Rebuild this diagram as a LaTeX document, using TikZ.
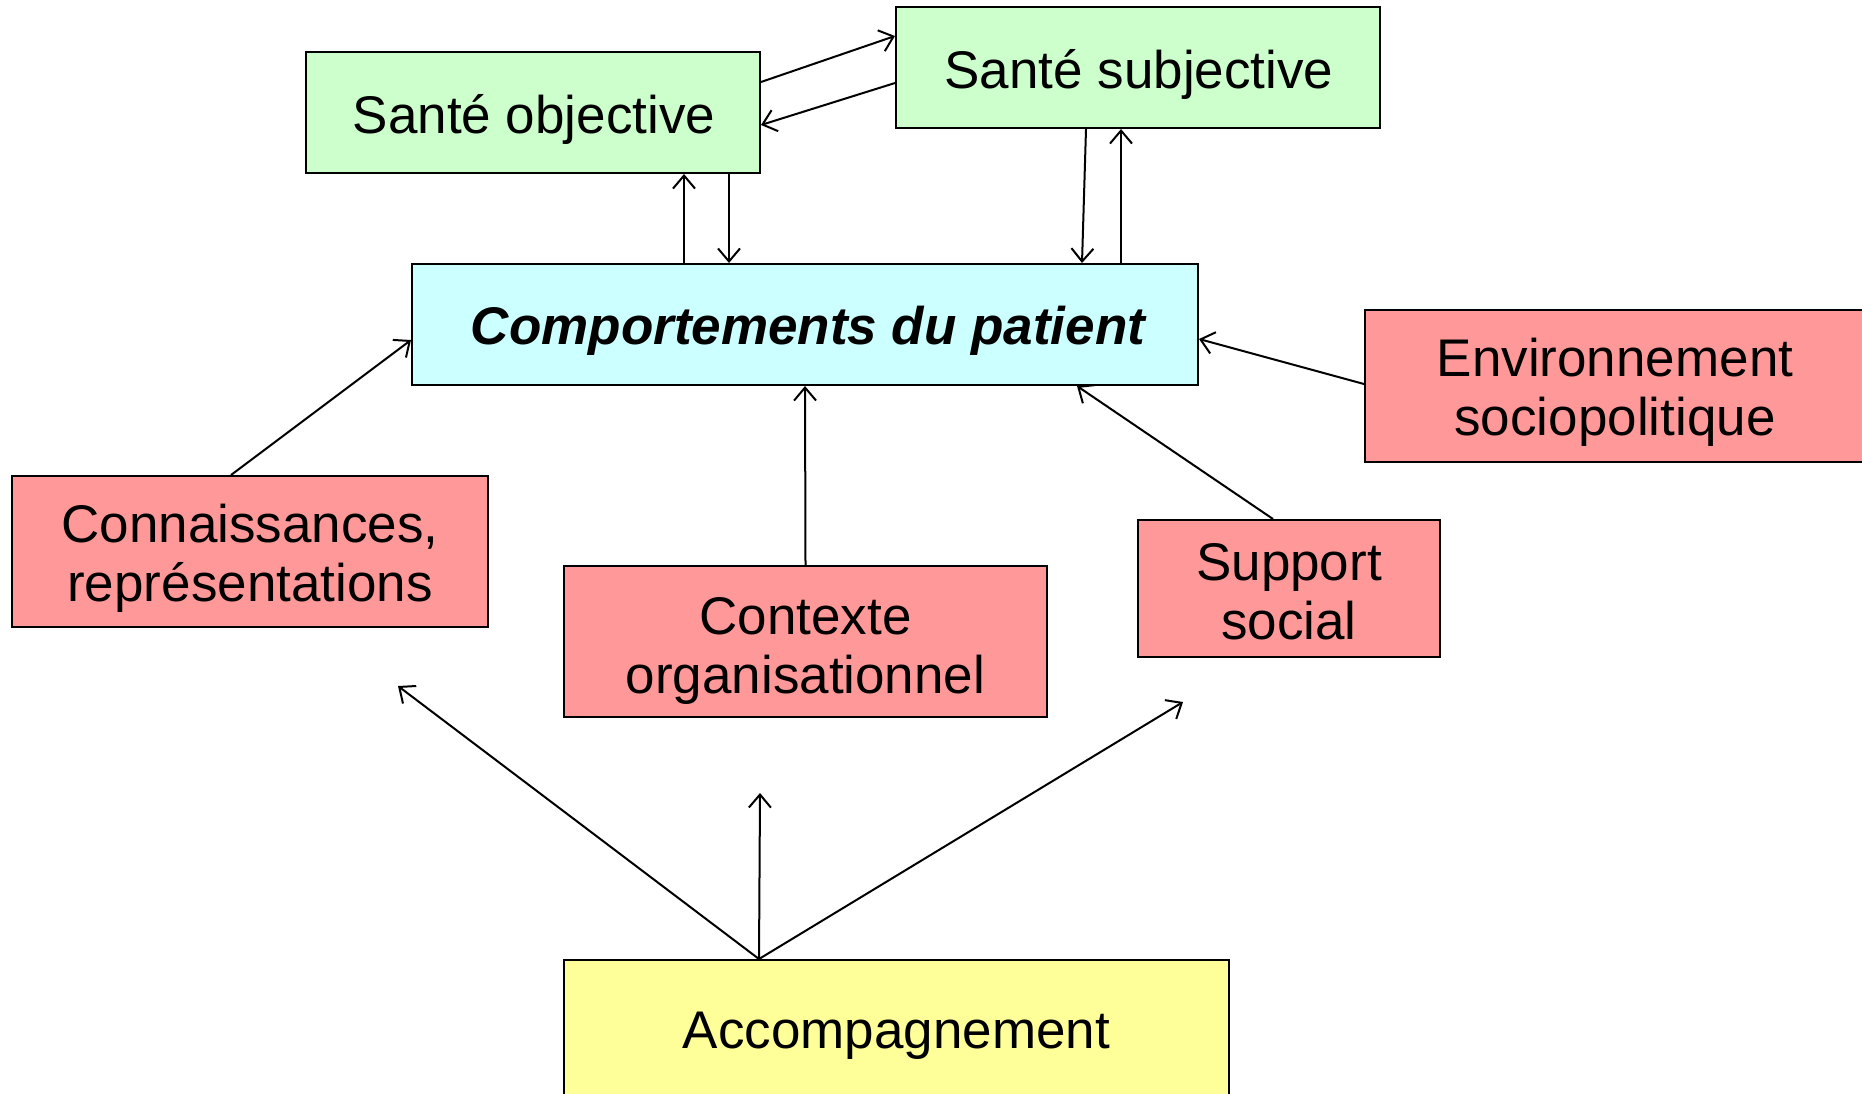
\documentclass[tikz,border=0pt]{standalone}
\usepackage{fontspec}
\setmainfont{Liberation Sans}
\usetikzlibrary{arrows.meta,calc}
\definecolor{vert}{HTML}{CCFFCC}
\definecolor{cyanc}{HTML}{CCFFFF}
\definecolor{rose}{HTML}{FF9999}
\definecolor{jaune}{HTML}{FFFF99}
\begin{document}
\begin{tikzpicture}[x=1pt,y=-1pt,
  boxn/.style={draw=black,line width=2pt,inner sep=0pt},
  txt/.style={inner sep=0pt,align=center,font=\fontsize{53}{59}\selectfont},
  arr/.style={line width=2pt,-{Straight Barb[length=13pt,width=22pt,line width=2pt]}}]
\useasboundingbox (0,0) rectangle (1862,1093);
\clip (0,0) rectangle (1862,1093);
\fill[white] (0,0) rectangle (1862,1093);
\node[boxn,fill=vert,minimum width=454pt,minimum height=121pt] (obj) at (533,112.5) {};
\node[boxn,fill=vert,minimum width=484pt,minimum height=121pt] (subj) at (1138,67.5) {};
\node[boxn,fill=cyanc,minimum width=786pt,minimum height=121pt] (comp) at (805,324.5) {};
\node[boxn,fill=rose,minimum width=500pt,minimum height=152pt] (env) at (1615,386) {};
\node[boxn,fill=rose,minimum width=476pt,minimum height=151pt] (conn) at (250,551.5) {};
\node[boxn,fill=rose,minimum width=483pt,minimum height=151pt] (ctx) at (805.5,641.5) {};
\node[boxn,fill=rose,minimum width=302pt,minimum height=137pt] (sup) at (1289,588.5) {};
\node[boxn,fill=jaune,minimum width=665pt,minimum height=140pt] (acc) at (896.5,1030) {};

\node[txt] (objt) at ($(obj.center)+(1,7)$) {Santé objective};
\node[txt] (subjt) at ($(subj.center)+(1,7)$) {Santé subjective};
\node[txt] (compt) at ($(comp.center)+(3,6)$) {\bfseries\itshape Comportements du patient};
\node[txt] (envt) at ($(env.center)+(0,6)$) {Environnement\\sociopolitique};
\node[txt] (connt) at ($(conn.center)+(0,7)$) {Connaissances,\\représentations};
\node[txt] (ctxt) at ($(ctx.center)+(0,9)$) {Contexte\\organisationnel};
\node[txt] (supt) at ($(sup.center)+(0,3)$) {Support\\social};
\node[txt] (acct) at ($(acc.center)+(0,6)$) {Accompagnement};

\draw[arr] ($(obj.north east)+(0,31)$) -- ($(subj.north west)+(0,30)$);
\draw[arr] ($(subj.north west)+(0,77)$) -- ($(obj.north east)+(0,74)$);
\draw[arr] ($(comp.north west)+(273,0)$) -- ($(obj.south west)+(379,0)$);
\draw[arr] ($(obj.south west)+(424,0)$) -- ($(comp.north west)+(318,0)$);
\draw[arr] ($(subj.south west)+(191,0)$) -- ($(comp.north west)+(671,0)$);
\draw[arr] ($(comp.north west)+(710,0)$) -- ($(subj.south west)+(226,0)$);
\draw[arr] ($(env.north west)+(0,75)$) -- ($(comp.north east)+(0,76)$);
\draw[arr] ($(conn.north west)+(220,0)$) -- ($(comp.north west)+(0,77)$);
\draw[arr] (ctx.north) -- (comp.south);
\draw[arr] ($(sup.north west)+(136,0)$) -- ($(comp.south west)+(666,0)$);

\coordinate (a0) at ($(acc.north west)+(196,0)$);
\coordinate (tl) at (398,686);
\coordinate (tm) at (760,793);
\coordinate (tr) at (1183,702);
\draw[arr] (a0) -- (tl);
\draw[arr] (a0) -- (tm);
\draw[arr] (a0) -- (tr);
\end{tikzpicture}
\end{document}
